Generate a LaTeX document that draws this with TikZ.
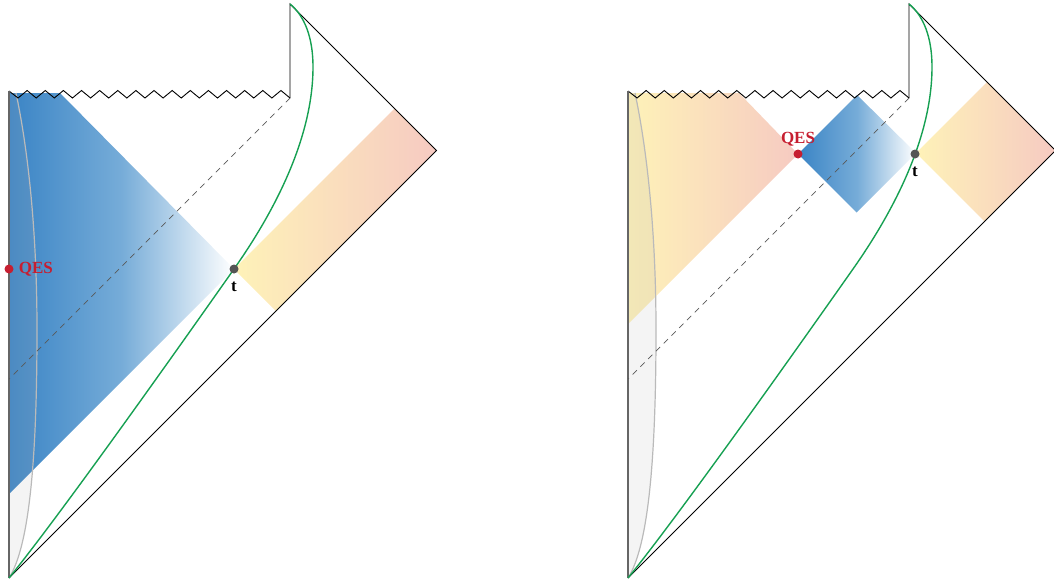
\documentclass[tikz,border=0pt]{standalone}
\usepackage{fontspec}
\setmainfont{Liberation Serif}
\usetikzlibrary{positioning}

\definecolor{qesred}{RGB}{198,30,48}
\definecolor{penblue}{RGB}{58,132,197}
\definecolor{penbluemid}{RGB}{118,172,216}
\definecolor{penyellow}{RGB}{254,242,184}
\definecolor{penpink}{RGB}{246,202,194}
\definecolor{pengreen}{RGB}{22,160,82}
\definecolor{dotgray}{RGB}{85,85,85}

\tikzset{
  border/.style={black, line width=0.9pt, line join=miter},
  boundary/.style={black!60, line width=1.4pt},
  horizon/.style={black!65, line width=0.7pt, dash pattern=on 6pt off 5pt},
  cutoff/.style={black!27, line width=1.2pt},
  brane/.style={pengreen, line width=1.4pt},
  dotnode/.style={circle, inner sep=0pt, minimum size=9pt},
  tdot/.style={dotnode, fill=dotgray},
  qesdot/.style={dotnode, fill=qesred},
  lab/.style={font=\fontsize{17}{17}\selectfont\bfseries, inner sep=1pt},
}

\begin{document}
\begin{tikzpicture}[x=1pt, y=-1pt]
  \useasboundingbox (0,0) rectangle (1054,584);

  % left diagram: entanglement wedge and radiation strip
  \shade[left color=penblue, right color=white, middle color=penbluemid]
    (9,93) -- (60,93) -- (234,269) -- (9,494) -- cycle;
  \shade[left color=penyellow, right color=penpink]
    (234,269) -- (394.5,108.5) -- (436.5,150.5) -- (276,311) -- cycle;

  % right diagram: island and radiation
  \shade[left color=penyellow, right color=penpink]
    (628,93) -- (739,93) -- (798,154) -- (628,324) -- cycle;
  \shade[left color=penblue, right color=white, middle color=penbluemid]
    (798,154) -- (857,95) -- (916,153) -- (856.5,212.5) -- cycle;
  \shade[left color=penyellow, right color=penpink]
    (916,153) -- (987,82) -- (1055.5,150.5) -- (984.5,221.5) -- cycle;

  % the two Penrose frames
  \foreach \dx in {0,619} {
    \begin{scope}[xshift=\dx pt]
      \coordinate (bot) at (9,578);
      \coordinate (top) at (290,4);
      \coordinate (rc) at (436.5,150.5);
      \coordinate (send) at (290,98);
      \coordinate (lt) at (9,91);

      \fill[black!30, fill opacity=0.15] (bot) .. controls (28,548) and (37,470) .. (37,330)
        .. controls (37,220) and (26,140) .. (16,93) -- (9,93) -- cycle;
      \draw[cutoff] (bot) .. controls (28,548) and (37,470) .. (37,330)
        .. controls (37,220) and (26,140) .. (16,93);

      \draw[border] (bot) -- (rc) -- (top) -- (send);
      \draw[border] (lt) \foreach \i in {1,...,31} { -- ({9+\i*9.065},{90.5+7.5*mod(\i,2)}) };
      \draw[boundary] (lt) -- (bot);
      \draw[horizon] (send) -- (9,379);

      \draw[brane] (bot) .. controls (60,515) and (170,360) .. (234,269)
        .. controls (272,215) and (313,140) .. (313,67)
        .. controls (313,30) and (300,12) .. (top);
    \end{scope}
  }

  % points
  \node[tdot] (t1) at (234,269) {};
  \node[lab, below=7pt of t1] (t1lab) {t};
  \node[qesdot] (q1) at (9,269) {};
  \node[lab, qesred, right=4pt of q1] (q1lab) {QES};

  \node[tdot] (t2) at (915,154) {};
  \node[lab, below=7pt of t2] (t2lab) {t};
  \node[qesdot] (q2) at (798,154) {};
  \node[lab, qesred, above=2pt of q2] (q2lab) {QES};
\end{tikzpicture}
\end{document}
